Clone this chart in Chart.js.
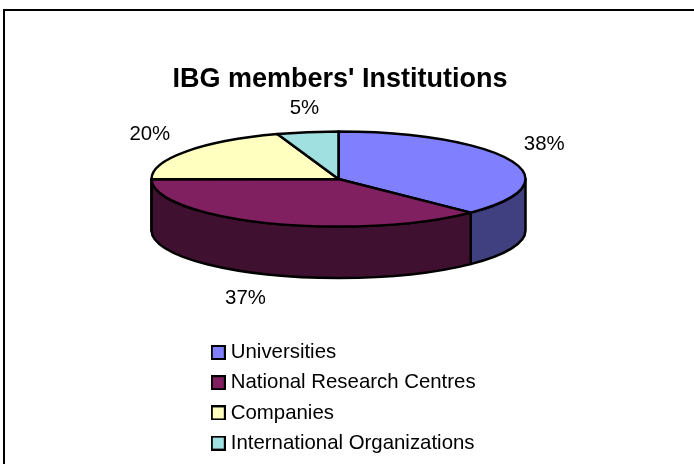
<!DOCTYPE html>
<html><head><meta charset="utf-8">
<style>html,body{margin:0;padding:0;background:#fff}canvas{display:block}</style>
<script src="https://cdn.jsdelivr.net/npm/chart.js@4"></script>
</head><body><canvas id="c" width="694" height="464"></canvas>
<script>
const categories = ["Universities","National Research Centres","Companies","International Organizations"];
const shares = [37.5, 37.4, 19.8, 5.3];
const percentLabels = ["38%","37%","20%","5%"];
const topColours = ["#8080FF","#802060","#FFFFC0","#A0E0E0"];
const sideColours = ["#404080","#401030","#808060","#507070"];
const labelNudges = [[33,-16],[-22,24],[-36,-17],[-3,-24]];

const PIE = {cx:338.5, cy:179, rx:187, ry:47.5, depth:51.5};
const FONT = '"Liberation Sans", Arial, sans-serif';
const LEGEND_FONT = 20.4;

function swatch(colour){
  const s = document.createElement('canvas'); s.width=15; s.height=15;
  const x = s.getContext('2d');
  x.fillStyle='#000'; x.fillRect(0,0,15,15);
  x.fillStyle=colour; x.fillRect(2,2,11,11);
  return s;
}
function wedgeGeom(el){
  const p = el.getProps(['startAngle','endAngle'], true);
  return {a:p.startAngle, b:p.endAngle};
}
const pie3d = {
  id:'pie3d',
  beforeDraw(chart){
    const c = chart.ctx;
    c.save();
    c.fillStyle='#fff'; c.fillRect(0,0,694,464);
    c.strokeStyle='#000'; c.lineWidth=2;
    c.beginPath(); c.moveTo(4,464); c.lineTo(4,10); c.lineTo(694,10); c.stroke();
    c.restore();
  },
  afterLayout(chart){
    const l = chart.legend;
    l.left=206.2; l.right=640; l.top=332.5; l.bottom=800;
    const t = chart.titleBlock;
    t.left=0; t.right=680;
  },
  beforeDatasetDraw(chart,args){
    const c = chart.ctx, els = args.meta.data, P = PIE;
    c.save();
    c.lineWidth=2.5; c.strokeStyle='#000'; c.lineJoin='round';
    els.forEach((el,i)=>{
      const g = wedgeGeom(el);
      const a = Math.max(g.a,0), b = Math.min(g.b,Math.PI);
      if (b<=a) return;
      c.beginPath();
      c.ellipse(P.cx,P.cy,P.rx,P.ry,0,a,b);
      c.ellipse(P.cx,P.cy+P.depth,P.rx,P.ry,0,b,a,true);
      c.closePath();
      c.fillStyle=sideColours[i]; c.fill(); c.stroke();
    });
    els.forEach((el,i)=>{
      const g = wedgeGeom(el);
      c.beginPath();
      c.moveTo(P.cx,P.cy);
      c.ellipse(P.cx,P.cy,P.rx,P.ry,0,g.a,g.b);
      c.closePath();
      c.fillStyle=topColours[i]; c.fill(); c.stroke();
    });
    c.fillStyle='#000';
    c.font=LEGEND_FONT+'px '+FONT; c.textAlign='center'; c.textBaseline='middle';
    els.forEach((el,i)=>{
      const g = wedgeGeom(el), m=(g.a+g.b)/2;
      const x=P.cx+P.rx*Math.cos(m), y=P.cy+P.ry*Math.sin(m)+(Math.sin(m)>0?P.depth:0);
      c.fillText(percentLabels[i], x+labelNudges[i][0], y+labelNudges[i][1]);
    });
    c.restore();
    return false;
  }
};
new Chart(document.getElementById('c'),{
  type:'pie',
  data:{labels:categories,datasets:[{data:shares,backgroundColor:topColours,borderColor:'#000',borderWidth:2}]},
  options:{
    responsive:false, animation:false,
    plugins:{
      tooltip:{enabled:false},
      title:{display:true,text:"IBG members' Institutions",color:'#000',
        font:{family:FONT,size:27,weight:'bold'},padding:{top:63,bottom:0}},
      legend:{position:'left',align:'start',
        labels:{color:'#000',usePointStyle:true,pointStyleWidth:4.6,boxHeight:15,padding:9.8,
          font:{family:FONT,size:LEGEND_FONT},
          generateLabels:()=>categories.map((t,i)=>({text:t,index:i,fillStyle:topColours[i],strokeStyle:'#000',lineWidth:2,pointStyle:swatch(topColours[i]),fontColor:'#000',hidden:false}))}}
    }
  },
  plugins:[pie3d]
});
</script></body></html>
